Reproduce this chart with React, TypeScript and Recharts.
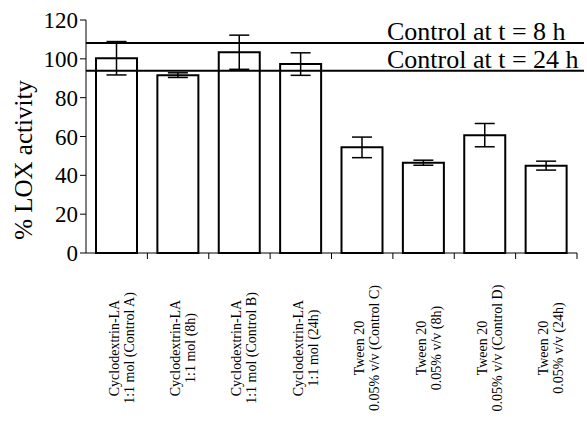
import { BarChart, Bar, XAxis, YAxis, ErrorBar, ReferenceLine } from 'recharts'

const labelLine1 = [
  'Cyclodextrin-LA',
  'Cyclodextrin-LA',
  'Cyclodextrin-LA',
  'Cyclodextrin-LA',
  'Tween 20',
  'Tween 20',
  'Tween 20',
  'Tween 20'
]

const labelLine2 = [
  '1:1 mol (Control A)',
  '1:1 mol (8h)',
  '1:1 mol (Control B)',
  '1:1 mol (24h)',
  '0.05% v/v (Control C)',
  '0.05% v/v (8h)',
  '0.05% v/v (Control D)',
  '0.05% v/v (24h)'
]

const activity = [100.3, 91.6, 103.4, 97.3, 54.4, 46.5, 60.7, 45.0]
const activityErr = [8.6, 1.2, 8.8, 5.8, 5.3, 1.3, 6.0, 2.3]

const yTicks = [0, 20, 40, 60, 80, 100, 120]

const controls = [
  { label: 'Control at t = 8 h', value: 108.2 },
  { label: 'Control at t = 24 h', value: 93.9 }
]

const data = activity.map((v, i) => ({
  name: labelLine2[i],
  value: v,
  err: activityErr[i]
}))

const W = 587
const H = 438
const LEFT = 86
const RIGHT = 10
const TOP = 20
const XAXIS_H = 185
const AXIS_Y = H - XAXIS_H
const BAND = (W - LEFT - RIGHT) / activity.length
const FONT = '"Liberation Serif", "Times New Roman", serif'

const CategoryTick = ({ x, payload }: any) => {
  const i = payload.index
  const cy = 348
  return (
    <g>
      <line x1={x + BAND / 2} y1={AXIS_Y} x2={x + BAND / 2} y2={AXIS_Y + 6} stroke="#000" strokeWidth={1} />
      <text
        x={x - 2.5}
        y={cy}
        transform={`rotate(-90, ${x - 2.5}, ${cy})`}
        textAnchor="middle"
        dominantBaseline="central"
        fontFamily={FONT}
        fontSize={14}
        fill="#000"
      >
        {labelLine1[i]}
      </text>
      <text
        x={x + 12.5}
        y={cy}
        transform={`rotate(-90, ${x + 12.5}, ${cy})`}
        textAnchor="middle"
        dominantBaseline="central"
        fontFamily={FONT}
        fontSize={14}
        fill="#000"
      >
        {labelLine2[i]}
      </text>
    </g>
  )
}

const YLabel = () => (
  <text
    x={32}
    y={160}
    transform="rotate(-90, 32, 160)"
    textAnchor="middle"
    fontFamily={FONT}
    fontSize={25}
    fill="#000"
  >
    % LOX activity
  </text>
)

const controlShape = (text: string) => (p: any) => (
  <g>
    <line x1={p.x1} y1={p.y1} x2={p.x2 + 7} y2={p.y2} stroke="#000" strokeWidth={2} />
    <text x={387} y={p.y1 - 3} fontFamily={FONT} fontSize={26} fill="#000">
      {text}
    </text>
  </g>
)

export default function App() {
  return (
    <div style={{ position: 'absolute', left: 0, top: 0, width: W, height: H, background: '#fff' }}>
      <BarChart
        width={W}
        height={H}
        data={data}
        margin={{ top: TOP, right: RIGHT, left: 0, bottom: 0 }}
        barSize={41}
      >
        <XAxis
          dataKey="name"
          interval={0}
          height={XAXIS_H}
          tickLine={false}
          axisLine={{ stroke: '#000', strokeWidth: 1 }}
          tick={<CategoryTick />}
        />
        <YAxis
          width={LEFT}
          domain={[0, 120]}
          ticks={yTicks}
          interval={0}
          tickSize={6}
          tickMargin={2}
          axisLine={{ stroke: '#000', strokeWidth: 1 }}
          tickLine={{ stroke: '#000', strokeWidth: 1 }}
          tick={{ fill: '#000', fontSize: 23, fontFamily: FONT }}
          label={<YLabel />}
        />
        <Bar dataKey="value" fill="#fff" stroke="#000" strokeWidth={2} isAnimationActive={false}>
          <ErrorBar dataKey="err" width={10} stroke="#000" strokeWidth={1.5} />
        </Bar>
        {controls.map((c) => (
          <ReferenceLine key={c.label} y={c.value} ifOverflow="visible" shape={controlShape(c.label)} />
        ))}
      </BarChart>
    </div>
  )
}
